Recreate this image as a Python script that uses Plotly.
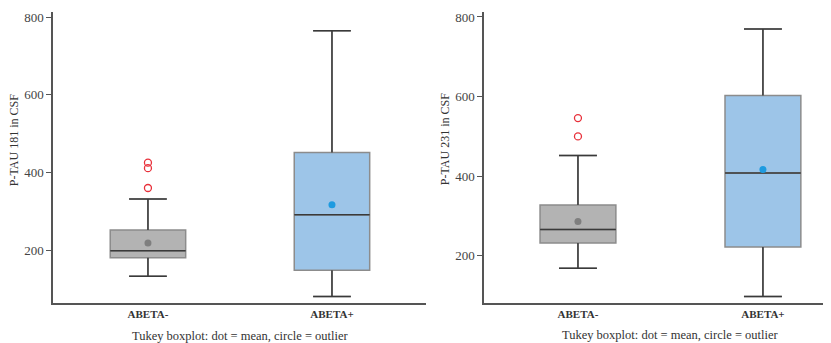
import plotly.graph_objects as go

# ---- data ----
groups = ["ABETA-", "ABETA+"]
positions = [0, 1]

# P-TAU 181
p181_q1 = [182, 150]
p181_median = [200, 292]
p181_q3 = [253, 452]
p181_lower = [134, 82]
p181_upper = [333, 765]
p181_mean = [220, 318]
p181_outliers = [[426, 412, 361], []]

# P-TAU 231
p231_q1 = [232, 222]
p231_median = [266, 408]
p231_q3 = [328, 603]
p231_lower = [169, 98]
p231_upper = [452, 770]
p231_mean = [286, 417]
p231_outliers = [[546, 500], []]

fills = ["#b3b3b3", "#9dc5e8"]
mean_colors = ["#7f7f7f", "#1e9be0"]
border_color = "#8c8c8c"
dark = "#3a3a3a"
outlier_color = "#e8303a"
SERIF = "Liberation Serif, DejaVu Serif, serif"
BOXW = 0.41
CAPW = 0.205

# page body has an 8px margin: size the figure so it fits the 831x343 window
OFF = 8
W, H = 831 - OFF, 343 - OFF


def px(xp):
    return (xp - OFF) / W


def py(yp):
    return 1 - (yp - OFF) / H


fig = go.Figure()


def add_panel(xa, ya, q1, med, q3, lo, hi, mean, outl):
    for i, g in enumerate(groups):
        x = positions[i]
        fig.add_trace(go.Box(
            x=[x], q1=[q1[i]], median=[med[i]], q3=[q3[i]],
            lowerfence=[lo[i]], upperfence=[hi[i]],
            width=BOXW, whiskerwidth=0.5, fillcolor=fills[i],
            line=dict(color=border_color, width=1.5),
            boxpoints=False, showlegend=False, hoverinfo="skip",
            xaxis=xa, yaxis=ya))
        wx = [x, x, None, x - CAPW / 2, x + CAPW / 2, None,
              x, x, None, x - CAPW / 2, x + CAPW / 2, None,
              x - BOXW / 2, x + BOXW / 2]
        wy = [q3[i], hi[i], None, hi[i], hi[i], None,
              q1[i], lo[i], None, lo[i], lo[i], None,
              med[i], med[i]]
        fig.add_trace(go.Scatter(
            x=wx, y=wy, mode="lines", line=dict(color=dark, width=1.5),
            showlegend=False, hoverinfo="skip", xaxis=xa, yaxis=ya))
        fig.add_trace(go.Scatter(
            x=[x], y=[mean[i]], mode="markers",
            marker=dict(color=mean_colors[i], size=7),
            showlegend=False, hoverinfo="skip", xaxis=xa, yaxis=ya))
        if outl[i]:
            fig.add_trace(go.Scatter(
                x=[x] * len(outl[i]), y=outl[i], mode="markers",
                marker=dict(symbol="circle-open", color=outlier_color, size=7,
                            line=dict(width=1.3, color=outlier_color)),
                showlegend=False, hoverinfo="skip", xaxis=xa, yaxis=ya))


add_panel("x", "y", p181_q1, p181_median, p181_q3, p181_lower, p181_upper,
          p181_mean, p181_outliers)
add_panel("x2", "y2", p231_q1, p231_median, p231_q3, p231_lower, p231_upper,
          p231_mean, p231_outliers)

ytop = py(10)
ybot = py(303)

xcommon = dict(showline=True, linecolor="#555555", linewidth=1.5, ticks="",
               showgrid=False, zeroline=False, tickvals=positions, ticktext=groups,
               tickfont=dict(family=SERIF, size=11, color="#333333", weight="bold"))
ycommon = dict(showline=True, linecolor="#555555", linewidth=1.5, ticks="outside",
               ticklen=5, tickwidth=1, tickcolor="#555555", showgrid=False,
               zeroline=False, tickvals=[200, 400, 600, 800], ticklabelstandoff=0,
               ticklabeloverflow="allow",
               tickfont=dict(family=SERIF, size=13, color="#444444"))

fig.update_layout(
    width=W, height=H, margin=dict(l=0, r=0, t=0, b=0),
    paper_bgcolor="white", plot_bgcolor="white",
    xaxis=dict(domain=[px(53), px(426)], range=[-0.516, 1.511], anchor="y", **xcommon),
    yaxis=dict(domain=[ybot, ytop], range=[65, 813], anchor="x", **ycommon),
    xaxis2=dict(domain=[px(484), 1.0], range=[-0.508, 1.368], anchor="y2", **xcommon),
    yaxis2=dict(domain=[ybot, ytop], range=[81, 812.5], anchor="x2", **ycommon),
    annotations=[
        dict(text="P-TAU 181 in CSF", x=px(14), y=py(139), xref="paper", yref="paper",
             textangle=-90, showarrow=False, xanchor="center", yanchor="middle",
             font=dict(family=SERIF, size=12, color="#333333")),
        dict(text="P-TAU 231 in CSF", x=px(445), y=py(138), xref="paper", yref="paper",
             textangle=-90, showarrow=False, xanchor="center", yanchor="middle",
             font=dict(family=SERIF, size=12, color="#333333")),
        dict(text="Tukey boxplot: dot = mean, circle = outlier", x=px(240), y=py(336),
             xref="paper", yref="paper", showarrow=False, xanchor="center", yanchor="middle",
             font=dict(family=SERIF, size=12.5, color="#333333")),
        dict(text="Tukey boxplot: dot = mean, circle = outlier", x=px(670), y=py(335),
             xref="paper", yref="paper", showarrow=False, xanchor="center", yanchor="middle",
             font=dict(family=SERIF, size=12.5, color="#333333")),
    ],
)

fig.write_html("out.html")
